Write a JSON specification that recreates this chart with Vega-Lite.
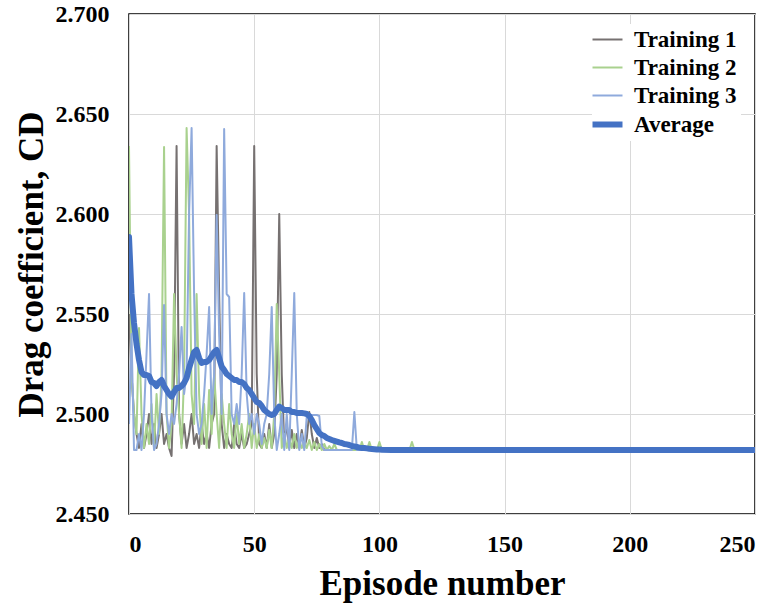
{
  "$schema": "https://vega.github.io/schema/vega-lite/v6.json",
  "width": 626,
  "height": 500,
  "autosize": "none",
  "padding": {"left": 129, "top": 14, "right": 19, "bottom": 89},
  "background": "white",
  "config": {
    "font": "Liberation Serif",
    "view": {"stroke": "black", "strokeWidth": 1.5},
    "axis": {
      "labelFont": "Liberation Serif", "labelFontWeight": "bold", "labelFontSize": 24, "labelColor": "black",
      "titleFont": "Liberation Serif", "titleFontWeight": "bold", "titleFontSize": 35, "titleColor": "black",
      "gridColor": "#d9d9d9", "gridWidth": 1, "ticks": false, "domain": false
    },
    "legend": {"labelFont": "Liberation Serif", "labelFontWeight": "bold", "labelFontSize": 23, "labelColor": "black"}
  },
  "data": {"values": [
    {"ep":0,"Training 1":2.550,"Training 2":2.634,"Training 3":2.495,"Average":2.5885},
    {"ep":1,"Training 1":2.520,"Training 2":2.520,"Training 3":2.540,"Average":2.560},
    {"ep":2,"Training 1":2.500,"Training 2":2.500,"Training 3":2.482,"Average":2.5455},
    {"ep":3,"Training 1":2.490,"Training 2":2.490,"Training 3":2.482,"Average":2.535},
    {"ep":4,"Training 1":2.483,"Training 2":2.543,"Training 3":2.490,"Average":2.527},
    {"ep":5,"Training 1":2.495,"Training 2":2.500,"Training 3":2.482,"Average":2.521},
    {"ep":6,"Training 1":2.483,"Training 2":2.483,"Training 3":2.500,"Average":2.5195},
    {"ep":7,"Training 1":2.490,"Training 2":2.495,"Training 3":2.530,"Average":2.5195},
    {"ep":8,"Training 1":2.500,"Training 2":2.485,"Training 3":2.560,"Average":2.519},
    {"ep":9,"Training 1":2.485,"Training 2":2.505,"Training 3":2.500,"Average":2.516},
    {"ep":10,"Training 1":2.495,"Training 2":2.483,"Training 3":2.482,"Average":2.5155},
    {"ep":11,"Training 1":2.483,"Training 2":2.510,"Training 3":2.485,"Average":2.514},
    {"ep":12,"Training 1":2.490,"Training 2":2.490,"Training 3":2.495,"Average":2.516},
    {"ep":13,"Training 1":2.500,"Training 2":2.520,"Training 3":2.510,"Average":2.517},
    {"ep":14,"Training 1":2.485,"Training 2":2.6335,"Training 3":2.5545,"Average":2.514},
    {"ep":15,"Training 1":2.490,"Training 2":2.500,"Training 3":2.500,"Average":2.512},
    {"ep":16,"Training 1":2.483,"Training 2":2.483,"Training 3":2.490,"Average":2.510},
    {"ep":17,"Training 1":2.479,"Training 2":2.495,"Training 3":2.500,"Average":2.5087},
    {"ep":18,"Training 1":2.520,"Training 2":2.560,"Training 3":2.495,"Average":2.511},
    {"ep":19,"Training 1":2.634,"Training 2":2.520,"Training 3":2.505,"Average":2.513},
    {"ep":20,"Training 1":2.500,"Training 2":2.500,"Training 3":2.520,"Average":2.513},
    {"ep":21,"Training 1":2.485,"Training 2":2.483,"Training 3":2.5435,"Average":2.514},
    {"ep":22,"Training 1":2.495,"Training 2":2.520,"Training 3":2.510,"Average":2.5155},
    {"ep":23,"Training 1":2.483,"Training 2":2.643,"Training 3":2.520,"Average":2.518},
    {"ep":24,"Training 1":2.490,"Training 2":2.600,"Training 3":2.600,"Average":2.523},
    {"ep":25,"Training 1":2.500,"Training 2":2.510,"Training 3":2.643,"Average":2.527},
    {"ep":26,"Training 1":2.485,"Training 2":2.495,"Training 3":2.560,"Average":2.531},
    {"ep":27,"Training 1":2.490,"Training 2":2.560,"Training 3":2.500,"Average":2.532},
    {"ep":28,"Training 1":2.483,"Training 2":2.510,"Training 3":2.490,"Average":2.528},
    {"ep":29,"Training 1":2.495,"Training 2":2.485,"Training 3":2.495,"Average":2.5255},
    {"ep":30,"Training 1":2.485,"Training 2":2.505,"Training 3":2.510,"Average":2.526},
    {"ep":31,"Training 1":2.490,"Training 2":2.483,"Training 3":2.530,"Average":2.526},
    {"ep":32,"Training 1":2.483,"Training 2":2.512,"Training 3":2.5535,"Average":2.527},
    {"ep":33,"Training 1":2.495,"Training 2":2.490,"Training 3":2.500,"Average":2.529},
    {"ep":34,"Training 1":2.500,"Training 2":2.520,"Training 3":2.520,"Average":2.531},
    {"ep":35,"Training 1":2.634,"Training 2":2.500,"Training 3":2.5995,"Average":2.532},
    {"ep":36,"Training 1":2.560,"Training 2":2.483,"Training 3":2.540,"Average":2.528},
    {"ep":37,"Training 1":2.495,"Training 2":2.510,"Training 3":2.500,"Average":2.5237},
    {"ep":38,"Training 1":2.483,"Training 2":2.495,"Training 3":2.6425,"Average":2.522},
    {"ep":39,"Training 1":2.490,"Training 2":2.483,"Training 3":2.560,"Average":2.520},
    {"ep":40,"Training 1":2.485,"Training 2":2.505,"Training 3":2.5585,"Average":2.519},
    {"ep":41,"Training 1":2.483,"Training 2":2.490,"Training 3":2.500,"Average":2.518},
    {"ep":42,"Training 1":2.495,"Training 2":2.483,"Training 3":2.495,"Average":2.517},
    {"ep":43,"Training 1":2.485,"Training 2":2.500,"Training 3":2.505,"Average":2.517},
    {"ep":44,"Training 1":2.483,"Training 2":2.485,"Training 3":2.495,"Average":2.516},
    {"ep":45,"Training 1":2.490,"Training 2":2.495,"Training 3":2.520,"Average":2.516},
    {"ep":46,"Training 1":2.483,"Training 2":2.483,"Training 3":2.5605,"Average":2.515},
    {"ep":47,"Training 1":2.485,"Training 2":2.490,"Training 3":2.510,"Average":2.513},
    {"ep":48,"Training 1":2.490,"Training 2":2.500,"Training 3":2.495,"Average":2.512},
    {"ep":49,"Training 1":2.495,"Training 2":2.483,"Training 3":2.500,"Average":2.510},
    {"ep":50,"Training 1":2.634,"Training 2":2.495,"Training 3":2.490,"Average":2.508},
    {"ep":51,"Training 1":2.520,"Training 2":2.483,"Training 3":2.500,"Average":2.506},
    {"ep":52,"Training 1":2.485,"Training 2":2.490,"Training 3":2.495,"Average":2.5055},
    {"ep":53,"Training 1":2.483,"Training 2":2.483,"Training 3":2.485,"Average":2.504},
    {"ep":54,"Training 1":2.490,"Training 2":2.488,"Training 3":2.495,"Average":2.502},
    {"ep":55,"Training 1":2.483,"Training 2":2.483,"Training 3":2.500,"Average":2.501},
    {"ep":56,"Training 1":2.495,"Training 2":2.492,"Training 3":2.520,"Average":2.500},
    {"ep":57,"Training 1":2.483,"Training 2":2.483,"Training 3":2.5535,"Average":2.4995},
    {"ep":58,"Training 1":2.490,"Training 2":2.500,"Training 3":2.500,"Average":2.500},
    {"ep":59,"Training 1":2.520,"Training 2":2.555,"Training 3":2.482,"Average":2.502},
    {"ep":60,"Training 1":2.600,"Training 2":2.520,"Training 3":2.490,"Average":2.5037},
    {"ep":61,"Training 1":2.520,"Training 2":2.483,"Training 3":2.500,"Average":2.503},
    {"ep":62,"Training 1":2.485,"Training 2":2.490,"Training 3":2.482,"Average":2.502},
    {"ep":63,"Training 1":2.495,"Training 2":2.483,"Training 3":2.500,"Average":2.502},
    {"ep":64,"Training 1":2.483,"Training 2":2.488,"Training 3":2.482,"Average":2.502},
    {"ep":65,"Training 1":2.492,"Training 2":2.483,"Training 3":2.520,"Average":2.501},
    {"ep":66,"Training 1":2.483,"Training 2":2.490,"Training 3":2.5605,"Average":2.501},
    {"ep":67,"Training 1":2.490,"Training 2":2.483,"Training 3":2.500,"Average":2.5005},
    {"ep":68,"Training 1":2.483,"Training 2":2.487,"Training 3":2.482,"Average":2.5005},
    {"ep":69,"Training 1":2.492,"Training 2":2.483,"Training 3":2.490,"Average":2.5005},
    {"ep":70,"Training 1":2.483,"Training 2":2.486,"Training 3":2.482,"Average":2.5003},
    {"ep":71,"Training 1":2.488,"Training 2":2.483,"Training 3":2.499,"Average":2.500},
    {"ep":72,"Training 1":2.501,"Training 2":2.487,"Training 3":2.4995,"Average":2.499},
    {"ep":73,"Training 1":2.490,"Training 2":2.482,"Training 3":2.4995,"Average":2.497},
    {"ep":74,"Training 1":2.483,"Training 2":2.486,"Training 3":2.4995,"Average":2.4945},
    {"ep":75,"Training 1":2.488,"Training 2":2.482,"Training 3":2.4995,"Average":2.4925},
    {"ep":76,"Training 1":2.483,"Training 2":2.485,"Training 3":2.499,"Average":2.4905},
    {"ep":77,"Training 1":2.485,"Training 2":2.482,"Training 3":2.484,"Average":2.4895},
    {"ep":78,"Training 1":2.482,"Training 2":2.485,"Training 3":2.482,"Average":2.489},
    {"ep":79,"Training 1":2.482,"Training 2":2.482,"Training 3":2.482,"Average":2.488},
    {"ep":80,"Training 1":2.482,"Training 2":2.484,"Training 3":2.482,"Average":2.4875},
    {"ep":81,"Training 1":2.482,"Training 2":2.482,"Training 3":2.482,"Average":2.487},
    {"ep":82,"Training 1":2.482,"Training 2":2.485,"Training 3":2.482,"Average":2.4866},
    {"ep":83,"Training 1":2.482,"Training 2":2.482,"Training 3":2.482,"Average":2.4862},
    {"ep":84,"Training 1":2.482,"Training 2":2.482,"Training 3":2.482,"Average":2.4858},
    {"ep":85,"Training 1":2.482,"Training 2":2.482,"Training 3":2.482,"Average":2.4855},
    {"ep":86,"Training 1":2.482,"Training 2":2.482,"Training 3":2.482,"Average":2.485},
    {"ep":87,"Training 1":2.482,"Training 2":2.482,"Training 3":2.482,"Average":2.4848},
    {"ep":88,"Training 1":2.482,"Training 2":2.482,"Training 3":2.482,"Average":2.4845},
    {"ep":89,"Training 1":2.482,"Training 2":2.482,"Training 3":2.482,"Average":2.484},
    {"ep":90,"Training 1":2.482,"Training 2":2.482,"Training 3":2.501,"Average":2.4838},
    {"ep":91,"Training 1":2.482,"Training 2":2.482,"Training 3":2.482,"Average":2.4835},
    {"ep":92,"Training 1":2.482,"Training 2":2.482,"Training 3":2.482,"Average":2.4832},
    {"ep":93,"Training 1":2.482,"Training 2":2.486,"Training 3":2.482,"Average":2.483},
    {"ep":94,"Training 1":2.482,"Training 2":2.482,"Training 3":2.482,"Average":2.483},
    {"ep":95,"Training 1":2.482,"Training 2":2.482,"Training 3":2.482,"Average":2.4828},
    {"ep":96,"Training 1":2.482,"Training 2":2.486,"Training 3":2.482,"Average":2.4826},
    {"ep":97,"Training 1":2.482,"Training 2":2.482,"Training 3":2.482,"Average":2.4825},
    {"ep":98,"Training 1":2.482,"Training 2":2.482,"Training 3":2.482,"Average":2.4824},
    {"ep":99,"Training 1":2.482,"Training 2":2.482,"Training 3":2.482,"Average":2.4823},
    {"ep":100,"Training 1":2.482,"Training 2":2.486,"Training 3":2.482,"Average":2.4822},
    {"ep":101,"Training 1":2.482,"Training 2":2.482,"Training 3":2.482,"Average":2.4821},
    {"ep":105,"Training 1":2.482,"Training 2":2.482,"Training 3":2.482,"Average":2.482},
    {"ep":112,"Training 1":2.482,"Training 2":2.482,"Training 3":2.482,"Average":2.482},
    {"ep":113,"Training 1":2.482,"Training 2":2.486,"Training 3":2.482,"Average":2.482},
    {"ep":114,"Training 1":2.482,"Training 2":2.482,"Training 3":2.482,"Average":2.482},
    {"ep":250,"Training 1":2.482,"Training 2":2.482,"Training 3":2.482,"Average":2.482}
  ]},
  "transform": [
    {"fold": ["Training 1", "Training 2", "Training 3", "Average"], "as": ["series", "cd"]}
  ],
  "encoding": {
    "x": {"field": "ep", "type": "quantitative",
          "scale": {"domain": [0, 250], "nice": false},
          "axis": {"values": [0, 50, 100, 150, 200, 250], "title": "Episode number", "labelPadding": 18, "titlePadding": 10}},
    "y": {"field": "cd", "type": "quantitative",
          "scale": {"domain": [2.45, 2.7], "nice": false, "zero": false},
          "axis": {"values": [2.45, 2.5, 2.55, 2.6, 2.65, 2.7], "format": ".3f", "title": "Drag coefficient, CD", "labelPadding": 20, "titlePadding": 6}},
    "color": {"field": "series", "type": "nominal",
              "scale": {"domain": ["Training 1", "Training 2", "Training 3", "Average"],
                        "range": ["#767171", "#A9D18E", "#8FAADC", "#4472C4"]},
              "legend": {"title": null, "orient": "none", "legendX": 463, "legendY": 10,
                         "symbolType": "stroke", "symbolSize": 900, "rowPadding": 4,
                         "fillColor": "white", "padding": 4, "labelOffset": 15,
                         "encode": {"symbols": {"update": {"strokeWidth": {"signal": "datum.value === 'Average' ? 6 : 2"}}}}}}
  },
  "layer": [
    {"transform": [{"filter": "datum.series != 'Average'"}], "mark": {"type": "line", "strokeWidth": 2, "strokeJoin": "round", "clip": true}},
    {"transform": [{"filter": "datum.series == 'Average'"}], "mark": {"type": "line", "strokeWidth": 6, "strokeJoin": "round", "strokeCap": "round", "clip": true}}
  ]
}
